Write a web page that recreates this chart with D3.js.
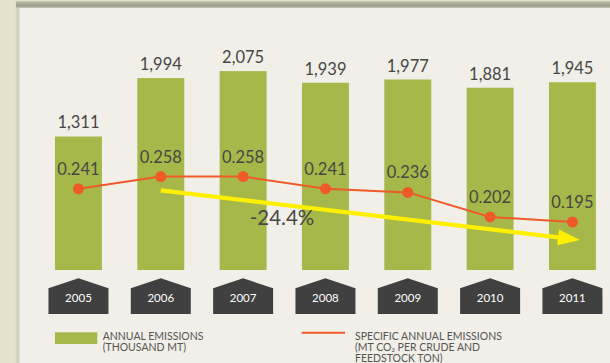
<!DOCTYPE html>
<html>
<head>
<meta charset="utf-8">
<script src="https://cdn.jsdelivr.net/npm/d3@7/dist/d3.min.js"></script>
<style>
  html, body { margin: 0; padding: 0; background: #e4e1cd; }
  svg { display: block; }
  text { font-family: Lato, "Open Sans", sans-serif; }
</style>
</head>
<body>
<svg id="chart" width="610" height="363"></svg>
<script>
// Annual CO2 emissions (thousand MT) and specific emissions (MT CO2 per crude and feedstock ton)
const years = ["2005", "2006", "2007", "2008", "2009", "2010", "2011"];
const annualEmissions = [1311, 1994, 2075, 1939, 1977, 1881, 1945];
const specificEmissions = [0.241, 0.258, 0.258, 0.241, 0.236, 0.202, 0.195];
const trendFrom = "2006";
const trendTo = "2011";
const legendBars = ["ANNUAL EMISSIONS", "(THOUSAND MT)"];
const legendLine = ["SPECIFIC ANNUAL EMISSIONS", "(MT CO\u2082 PER CRUDE AND", "FEEDSTOCK TON)"];

const W = 610, H = 363;
const svg = d3.select("#chart");

const GREEN = "#a6b84a", ORANGE = "#f05a28", DARK = "#404040", TEXT = "#474745", YELLOW = "#fff000";

// page frame: beige margin, panel with grey top rim and soft left shadow
const defs = svg.append("defs");
const topGrad = defs.append("linearGradient").attr("id", "topRim").attr("x1", 0).attr("y1", 0).attr("x2", 0).attr("y2", 1);
topGrad.append("stop").attr("offset", "0").attr("stop-color", "#d6d3bd");
topGrad.append("stop").attr("offset", "0.2").attr("stop-color", "#b4b3a0");
topGrad.append("stop").attr("offset", "0.7").attr("stop-color", "#9d9d8c");
topGrad.append("stop").attr("offset", "1").attr("stop-color", "#c9c8b8");
const leftGrad = defs.append("linearGradient").attr("id", "leftShade").attr("x1", 0).attr("y1", 0).attr("x2", 1).attr("y2", 0);
leftGrad.append("stop").attr("offset", "0").attr("stop-color", "#e4e1cd");
leftGrad.append("stop").attr("offset", "0.6").attr("stop-color", "#cdcab6");
leftGrad.append("stop").attr("offset", "1").attr("stop-color", "#e9e7dc");

svg.append("rect").attr("x", 0).attr("y", 0).attr("width", W).attr("height", H).attr("fill", "#e4e1cd");
svg.append("rect").attr("x", 15).attr("y", 1).attr("width", 5).attr("height", H).attr("fill", "url(#leftShade)");
svg.append("rect").attr("x", 20).attr("y", 8).attr("width", W - 20).attr("height", H - 8).attr("fill", "#f1efe8");
svg.append("rect").attr("x", 16).attr("y", 1).attr("width", W - 16).attr("height", 7).attr("fill", "url(#topRim)");

// scales (bar axis starts below zero: bars rise from a common floor)
const x = d3.scaleBand().domain(years).range([37.3, 613.6]).paddingInner(0.43).paddingOuter(0.215);
const yBar = d3.scaleLinear().domain([-249, 2906]).range([270, 0]);
const yLine = d3.scaleLinear().domain([0.1, 0.3]).range([290.6, 146.2]);
const cx = d => x(d) + x.bandwidth() / 2;
const floorY = yBar.range()[0];

const rows = years.map((yr, i) => ({ year: yr, total: annualEmissions[i], specific: specificEmissions[i] }));

// bars
svg.append("g").selectAll("rect").data(rows).join("rect")
  .attr("x", d => x(d.year))
  .attr("y", d => yBar(d.total))
  .attr("width", x.bandwidth())
  .attr("height", d => floorY - yBar(d.total))
  .attr("fill", GREEN);

// bar value labels
const fmt = d3.format(",");
svg.append("g").selectAll("text").data(rows).join("text")
  .attr("x", d => cx(d.year))
  .attr("y", d => yBar(d.total) - 8)
  .attr("text-anchor", "middle")
  .attr("font-size", 16.5)
  .attr("fill", TEXT)
  .text(d => fmt(d.total));

// year tags shaped like little houses
const tagW = 60, tagTop = 278.3, tagShoulder = 288.3, tagBottom = 314;
const tags = svg.append("g").selectAll("g").data(rows).join("g")
  .attr("transform", d => `translate(${cx(d.year)},0)`);
tags.append("path")
  .attr("d", d3.line()([[-tagW / 2, tagBottom], [-tagW / 2, tagShoulder], [0, tagTop], [tagW / 2, tagShoulder], [tagW / 2, tagBottom]]) + "Z")
  .attr("fill", DARK);
tags.append("text")
  .attr("y", 302.3)
  .attr("text-anchor", "middle")
  .attr("font-size", 11.5)
  .attr("fill", "#ffffff")
  .text(d => d.year);

// trend arrow from the first to the last trend year
const iFrom = years.indexOf(trendFrom), iTo = years.indexOf(trendTo);
const change = (specificEmissions[iTo] / specificEmissions[iFrom] - 1) * 100;
const p0 = [cx(trendFrom), yLine(specificEmissions[iFrom]) + 13.8];
const p1 = [cx(trendTo) + 7.5, yLine(specificEmissions[iTo]) + 18];
const ang = Math.atan2(p1[1] - p0[1], p1[0] - p0[0]);
const headLen = 22, headHalf = 8;
const ux = Math.cos(ang), uy = Math.sin(ang);
const base = [p1[0] - ux * headLen, p1[1] - uy * headLen];
svg.append("line")
  .attr("x1", p0[0]).attr("y1", p0[1])
  .attr("x2", base[0] + ux * 2).attr("y2", base[1] + uy * 2)
  .attr("stroke", YELLOW).attr("stroke-width", 4.2);
svg.append("path")
  .attr("d", d3.line()([
    p1,
    [base[0] - uy * headHalf, base[1] + ux * headHalf],
    [base[0] + uy * headHalf, base[1] - ux * headHalf]
  ]) + "Z")
  .attr("fill", YELLOW);

svg.append("text")
  .attr("x", 282)
  .attr("y", 225)
  .attr("text-anchor", "middle")
  .attr("font-size", 20.5)
  .attr("fill", TEXT)
  .text(change.toFixed(1) + "%");

// specific emissions line
svg.append("path")
  .datum(rows)
  .attr("d", d3.line().x(d => cx(d.year)).y(d => yLine(d.specific)))
  .attr("fill", "none")
  .attr("stroke", ORANGE)
  .attr("stroke-width", 2);
svg.append("g").selectAll("circle").data(rows).join("circle")
  .attr("cx", d => cx(d.year))
  .attr("cy", d => yLine(d.specific))
  .attr("r", 5.5)
  .attr("fill", ORANGE);
svg.append("g").selectAll("text").data(rows).join("text")
  .attr("x", d => cx(d.year))
  .attr("y", d => yLine(d.specific) - 14)
  .attr("text-anchor", "middle")
  .attr("font-size", 16.5)
  .attr("fill", TEXT)
  .text(d => d3.format(".3f")(d.specific));

// legend
const legend = svg.append("g").attr("font-size", 10.5).attr("fill", "#555553");
legend.append("rect").attr("x", 55).attr("y", 332.3).attr("width", 42.3).attr("height", 11.7).attr("fill", GREEN);
legend.append("g").selectAll("text").data(legendBars).join("text")
  .attr("x", 102.7).attr("y", (d, i) => 339.5 + i * 11).text(d => d);
legend.append("line").attr("x1", 301.7).attr("x2", 345).attr("y1", 332.8).attr("y2", 332.8)
  .attr("stroke", ORANGE).attr("stroke-width", 2);
legend.append("g").selectAll("text").data(legendLine).join("text")
  .attr("x", 355).attr("y", (d, i) => 339.5 + i * 11).text(d => d);
</script>
</body>
</html>
